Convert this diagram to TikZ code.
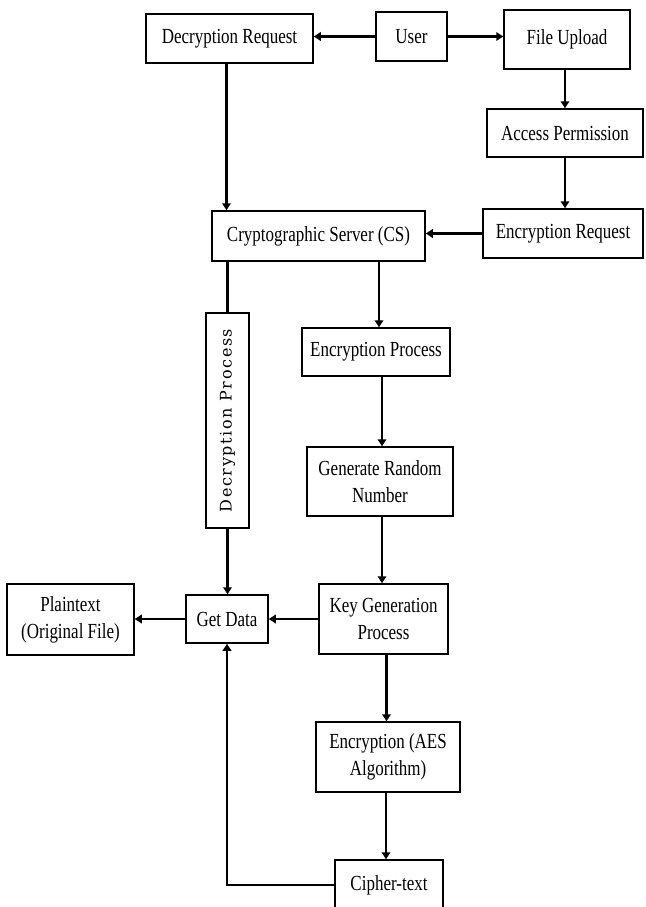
\documentclass[tikz,border=0pt]{standalone}
\usepackage{fontspec}
\usepackage{graphicx}
\setmainfont{Liberation Serif}[FakeStretch=0.79]
\newfontfamily\vertfont{DejaVu Serif}[LetterSpace=10]
\usetikzlibrary{arrows.meta}

\begin{document}
\begin{tikzpicture}[x=1pt,y=-1pt,
  box/.style={draw,line width=1.5pt,align=center,inner sep=0pt,
    font=\fontsize{21.5}{27}\selectfont},
  flow/.style={line width=2.4pt,-{Triangle[length=7pt,width=8.5pt]}},
  link/.style={line width=2.4pt}]

% page frame
\clip (0,0) rectangle (645,907);
\fill[white] (0,0) rectangle (645,907);

% boxes
\node[box,minimum width=167pt,minimum height=49pt] (dreq)   at (229.5,38.5) {Decryption Request};
\node[box,minimum width=71pt, minimum height=49pt] (user)   at (411.5,36.5) {User};
\node[box,minimum width=126pt,minimum height=59pt] (upload) at (567,39.5)   {File Upload};
\node[box,minimum width=156pt,minimum height=48pt] (access) at (565,133)    {Access Permission};
\node[box,minimum width=160pt,minimum height=49pt] (ereq)   at (563,233.5)  {Encryption Request};
\node[box,minimum width=213pt,minimum height=50pt] (cs)     at (318.5,236)  {Cryptographic Server (CS)};
\node[box,minimum width=43pt, minimum height=215pt] (dproc) at (227.5,420.5)
  {\rotatebox{90}{\vertfont\fontsize{16}{19}\selectfont Decryption Process}};
\node[box,minimum width=148pt,minimum height=48pt] (eproc)  at (376,352)    {Encryption Process};
\node[box,minimum width=146pt,minimum height=69pt] (grn)    at (380,481.5)  {Generate Random\\Number};
\node[box,minimum width=129pt,minimum height=70pt] (keygen) at (383.5,619)  {Key Generation\\Process};
\node[box,minimum width=82pt, minimum height=48pt] (getdata) at (227,619)   {Get Data};
\node[box,minimum width=127pt,minimum height=71pt] (plain)  at (70.5,619.5) {Plaintext\\(Original File)};
\node[box,minimum width=144pt,minimum height=70pt] (aes)    at (388,757)    {Encryption (AES\\Algorithm)};
\node[box,minimum width=108pt,minimum height=50pt] (cipher) at (389,885)    {Cipher-text};

% connectors
\draw[flow] (user.west) -- (user.west -| dreq.east);
\draw[flow] (user.east) -- (user.east -| upload.west);
\draw[flow] (access.north |- upload.south) -- (access.north);
\draw[flow] (access.south) -- (access.south |- ereq.north);
\draw[flow] (ereq.west) -- (ereq.west -| cs.east);
\draw[flow] ([xshift=-3pt]dreq.south) -- ([xshift=-3pt]dreq.south |- cs.north);
\draw[link] (dproc.north |- cs.south) -- (dproc.north);
\draw[flow] (dproc.south) -- (dproc.south |- getdata.north);
\draw[flow] ([xshift=3pt]eproc.north |- cs.south) -- ([xshift=3pt]eproc.north);
\draw[flow] ([xshift=2pt]grn.north |- eproc.south) -- ([xshift=2pt]grn.north);
\draw[flow] ([xshift=2pt]grn.south) -- ([xshift=2pt]grn.south |- keygen.north);
\draw[flow] (keygen.west) -- (keygen.west -| getdata.east);
\draw[flow] (getdata.west) -- (getdata.west -| plain.east);
\draw[flow] ([xshift=3pt]keygen.south) -- ([xshift=3pt]keygen.south |- aes.north);
\draw[flow] ([xshift=-2pt]aes.south) -- ([xshift=-2pt]aes.south |- cipher.north);
\draw[flow] (cipher.west) -| (getdata.south);
\end{tikzpicture}
\end{document}
